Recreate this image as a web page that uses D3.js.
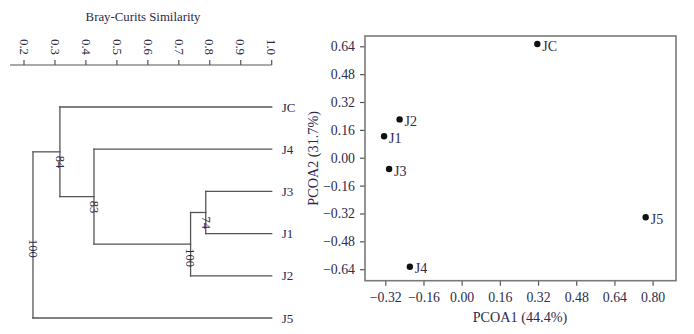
<!DOCTYPE html>
<html>
<head>
<meta charset="utf-8">
<script src="https://cdn.jsdelivr.net/npm/d3@7"></script>
<style>
  html, body { margin: 0; padding: 0; background: #fff; }
  svg { display: block; }
</style>
</head>
<body>
<svg id="chart" width="694" height="334"></svg>
<script>
// ---- Cluster analysis (Bray-Curtis similarity) ----
const leafOrder = ["JC", "J4", "J3", "J1", "J2", "J5"];
// agglomeration steps: two members joined at a similarity level, with bootstrap support
const merges = [
  { id: "n1", a: "J3", b: "J1", sim: 0.787, support: 74 },
  { id: "n2", a: "n1", b: "J2", sim: 0.738, support: 100 },
  { id: "n3", a: "J4", b: "n2", sim: 0.426, support: 83 },
  { id: "n4", a: "JC", b: "n3", sim: 0.316, support: 84 },
  { id: "n5", a: "n4", b: "J5", sim: 0.229, support: 100 }
];
const simTicks = [0.2, 0.3, 0.4, 0.5, 0.6, 0.7, 0.8, 0.9, 1.0];

// ---- Principal coordinates ----
const samples = ["JC", "J2", "J1", "J3", "J5", "J4"];
const pcoa1 = [0.317, -0.260, -0.325, -0.304, 0.771, -0.217];
const pcoa2 = [0.653, 0.220, 0.123, -0.065, -0.342, -0.626];
const pc1Ticks = [-0.32, -0.16, 0.00, 0.16, 0.32, 0.48, 0.64, 0.80];
const pc2Ticks = [0.64, 0.48, 0.32, 0.16, 0.00, -0.16, -0.32, -0.48, -0.64];

const FONT = "Liberation Serif";
const textColor = "#2d2a4a";
const lineColor = "#555";
const svg = d3.select("#chart").attr("font-family", FONT);

// ================= Dendrogram =================
const dx = d3.scaleLinear().domain([0.2, 1.0]).range([24, 271.7]);
const dy = d3.scalePoint().domain(leafOrder).range([107, 318]);
const dendro = svg.append("g").attr("font-family", FONT);

dendro.append("text")
  .attr("x", 143).attr("y", 21)
  .attr("text-anchor", "middle")
  .attr("font-family", FONT)
  .attr("font-size", 12.8)
  .attr("fill", textColor)
  .text("Bray-Curits Similarity");

// similarity axis along the top
const axisY = 65;
dendro.append("line")
  .attr("x1", 10).attr("x2", dx(1.0))
  .attr("y1", axisY).attr("y2", axisY)
  .attr("stroke", lineColor).attr("stroke-width", 1.2);
dendro.selectAll("line.stick").data(simTicks).join("line")
  .attr("class", "stick")
  .attr("x1", d => dx(d)).attr("x2", d => dx(d))
  .attr("y1", axisY - 5).attr("y2", axisY)
  .attr("stroke", lineColor).attr("stroke-width", 1.2);
dendro.selectAll("text.slab").data(simTicks).join("text")
  .attr("class", "slab")
  .attr("transform", d => `translate(${dx(d) - 4.3},55) rotate(90)`)
  .attr("text-anchor", "end")
  .attr("font-family", FONT)
  .attr("font-size", 12.8)
  .attr("fill", textColor)
  .text(d => d.toFixed(1));

// node positions: leaves sit at similarity 1.0, internal nodes at their join level
const pos = {};
leafOrder.forEach(k => { pos[k] = { x: dx(1.0), y: dy(k) }; });
merges.forEach(m => {
  const A = pos[m.a], B = pos[m.b];
  pos[m.id] = { x: dx(m.sim), y: (A.y + B.y) / 2, top: Math.min(A.y, B.y), bot: Math.max(A.y, B.y) };
});

const segs = [];
merges.forEach(m => {
  const N = pos[m.id];
  [m.a, m.b].forEach(c => segs.push([N.x, pos[c].y, pos[c].x, pos[c].y]));
  segs.push([N.x, N.top, N.x, N.bot]);
});
dendro.selectAll("line.branch").data(segs).join("line")
  .attr("class", "branch")
  .attr("x1", d => d[0]).attr("y1", d => d[1])
  .attr("x2", d => d[2]).attr("y2", d => d[3])
  .attr("stroke", lineColor).attr("stroke-width", 1.3)
  .attr("stroke-linecap", "square");

dendro.selectAll("text.support").data(merges).join("text")
  .attr("class", "support")
  .attr("transform", d => `translate(${pos[d.id].x - 4.2},${pos[d.id].y + 4}) rotate(90)`)
  .attr("text-anchor", "start")
  .attr("font-family", FONT)
  .attr("font-size", 12.5)
  .attr("fill", textColor)
  .text(d => d.support);

dendro.selectAll("text.leaf").data(leafOrder).join("text")
  .attr("class", "leaf")
  .attr("x", dx(1.0) + 10).attr("y", d => dy(d) + 4.5)
  .attr("font-family", FONT)
  .attr("font-size", 13)
  .attr("fill", textColor)
  .text(d => d);

// ================= PCoA scatter =================
const box = { left: 365, right: 676, top: 36, bottom: 280.7 };
const px = d3.scaleLinear().domain([-0.405, 0.898]).range([box.left, box.right]);
const py = d3.scaleLinear().domain([-0.706, 0.699]).range([box.bottom, box.top]);
const sc = svg.append("g").attr("font-family", FONT);

const xAxis = sc.append("g")
  .attr("transform", `translate(0,${box.bottom})`)
  .call(d3.axisBottom(px).tickValues(pc1Ticks).tickFormat(d3.format(".2f")).tickSize(5).tickSizeOuter(0));
const yAxis = sc.append("g")
  .attr("transform", `translate(${box.left},0)`)
  .call(d3.axisLeft(py).tickValues(pc2Ticks).tickFormat(d3.format(".2f")).tickSize(5).tickSizeOuter(0));
[xAxis, yAxis].forEach(a => {
  a.attr("font-family", FONT);
  a.select(".domain").remove();
  a.selectAll(".tick line").attr("stroke", lineColor).attr("stroke-width", 1.2);
  a.selectAll(".tick text")
    .attr("font-size", 13.8).attr("fill", textColor);
});
xAxis.selectAll(".tick text").attr("dy", "0.95em");
yAxis.selectAll(".tick text").attr("x", -10);

sc.append("rect")
  .attr("x", box.left).attr("y", box.top)
  .attr("width", box.right - box.left).attr("height", box.bottom - box.top)
  .attr("fill", "none").attr("stroke", "#7a7a7a").attr("stroke-width", 1.6);

const pts = samples.map((s, i) => ({ name: s, x: pcoa1[i], y: pcoa2[i] }));
sc.selectAll("circle.pt").data(pts).join("circle")
  .attr("class", "pt")
  .attr("cx", d => px(d.x)).attr("cy", d => py(d.y))
  .attr("r", 3.2).attr("fill", "#111");
sc.selectAll("text.pl").data(pts).join("text")
  .attr("class", "pl")
  .attr("x", d => px(d.x) + 5).attr("y", d => py(d.y) + 6.5)
  .attr("font-size", 14).attr("fill", textColor)
  .text(d => d.name);

sc.append("text")
  .attr("x", 520).attr("y", 321.5)
  .attr("text-anchor", "middle")
  .attr("font-size", 14.2).attr("fill", textColor)
  .text("PCOA1 (44.4%)");
sc.append("text")
  .attr("transform", `translate(318,${(box.top + box.bottom) / 2}) rotate(-90)`)
  .attr("text-anchor", "middle")
  .attr("font-size", 14.2).attr("fill", textColor)
  .text("PCOA2 (31.7%)");
</script>
</body>
</html>
